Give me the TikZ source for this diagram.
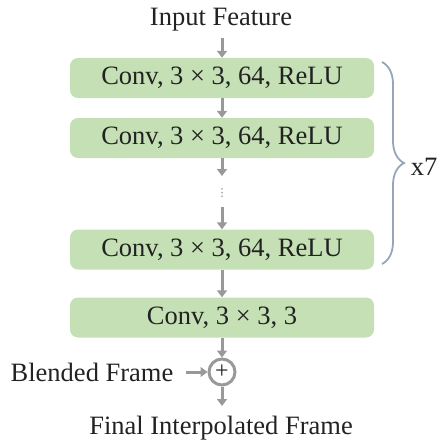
\documentclass[tikz,border=0pt]{standalone}
\usepackage{fontspec}
\setmainfont{Liberation Serif}
\newfontfamily\symfont{DejaVu Sans}
\usetikzlibrary{arrows.meta,decorations.pathreplacing}
\definecolor{boxgreen}{HTML}{C5E0B4}
\definecolor{arrowgray}{HTML}{999999}
\definecolor{bracecol}{HTML}{95A6BA}
\definecolor{txt}{HTML}{222222}
\begin{document}
\begin{tikzpicture}[x=1pt,y=1pt,
  every node/.style={font=\fontsize{26.5}{30}\selectfont, text=txt},
  convbox/.style={fill=boxgreen, rounded corners=8pt, minimum width=304pt, minimum height=40pt, inner sep=0pt},
  flow/.style={draw=arrowgray, line width=3pt, -{Triangle[width=10pt,length=7pt]}},
  plain/.style={inner sep=0pt}]
\useasboundingbox (0,0) rectangle (440,-444);
\node[plain] (in) at (221,-20) {Input Feature};
\node[convbox] (b1) at (222,-78) {Conv, 3 × 3, 64, ReLU};
\node[convbox] (b2) at (222,-138) {Conv, 3 × 3, 64, ReLU};
\node[plain, text=arrowgray!80!black, font=\symfont\fontsize{11}{11}\selectfont] (dots) at (222,-193) {⋮};
\node[convbox] (b3) at (222,-249.5) {Conv, 3 × 3, 64, ReLU};
\node[convbox] (b4) at (222,-317.5) {Conv, 3 × 3, 3};
\node[circle, draw=arrowgray, line width=3pt, minimum size=26pt, inner sep=0pt, font=\fontsize{24}{24}\selectfont] (plus) at (222,-372) {+};
\node[plain] (blend) at (92,-372) {Blended Frame};
\node[plain] (out) at (221,-428) {Final Interpolated Frame};
\node[plain] (x7) at (424,-167) {x7};
\coordinate (c1) at (222,-38);
\coordinate (c2) at (222,-176);
\coordinate (c3) at (222,-207);
\coordinate (c4) at (222,-406);
\coordinate (c5) at (186,-372);
\draw[flow] (c1) -- (b1.north);
\draw[flow] (b1.south) -- (b2.north);
\draw[flow] (b2.south) -- (c2);
\draw[flow] (c3) -- (b3.north);
\draw[flow] (b3.south) -- (b4.north);
\draw[flow] (b4.south) -- (plus.north);
\draw[flow] (c5) -- (plus.west);
\draw[flow] (plus.south) -- (c4);
\coordinate (bt) at (382,-62);
\coordinate (bb) at (382,-264);
\draw[bracecol, line width=1.8pt, decorate, decoration={brace, amplitude=22pt}] (bt) -- (bb);
\end{tikzpicture}
\end{document}
